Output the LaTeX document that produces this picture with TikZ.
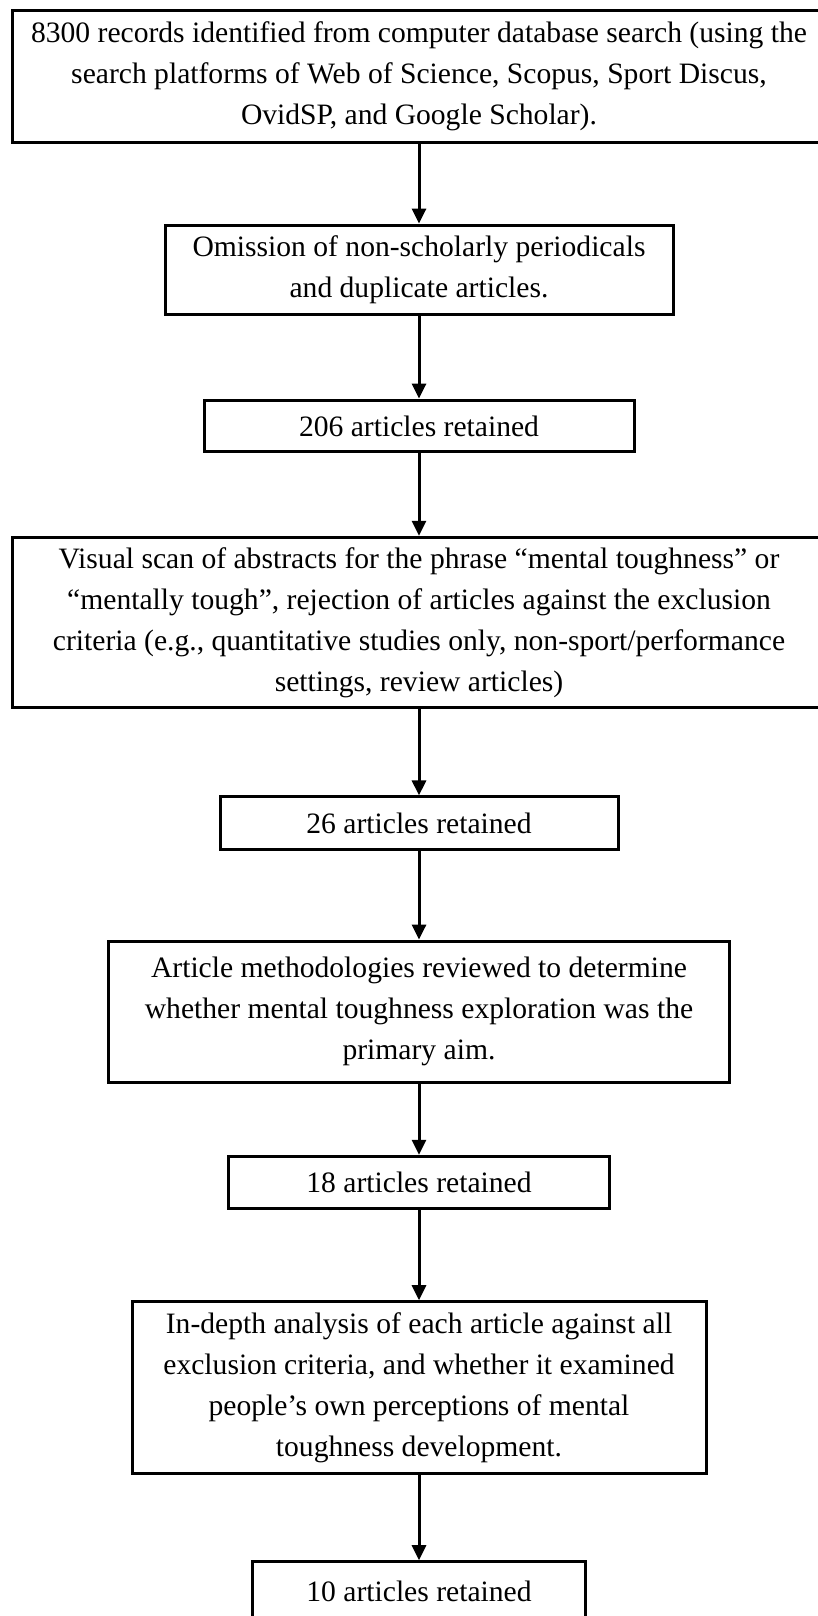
\documentclass[tikz,border=0pt]{standalone}
\usepackage{fontspec}
\setmainfont{Liberation Serif}
\usetikzlibrary{positioning,arrows.meta}

\begin{document}
\begin{tikzpicture}[>={Triangle[width=7pt,length=7.5pt]}, node distance=40pt,
    every node/.style={font=\fontsize{14.8pt}{20.5pt}\selectfont},
    box/.style={draw, line width=1.5pt, align=center, inner sep=0pt}]
      \useasboundingbox (0,0) rectangle (409pt,-808pt);
      \node[box, minimum width=406.5pt, minimum height=66pt, anchor=north] (search) at (209.5pt,-4.5pt)
            {8300 records identified from computer database search (using the\\
             search platforms of Web of Science, Scopus, Sport Discus,\\
             OvidSP, and Google Scholar).};
      \node[box, minimum width=254pt, minimum height=44.8pt, below=39.8pt of search] (omit)
            {Omission of non-scholarly periodicals\\ and duplicate articles.};
      \node[box, minimum width=215pt, minimum height=25.8pt, below=41.2pt of omit] (kept206) {206 articles retained};
      \node[box, minimum width=406.5pt, minimum height=85pt, below=41.3pt of kept206] (scan)
            {Visual scan of abstracts for the phrase “mental toughness” or\\
             “mentally tough”, rejection of articles against the exclusion\\
             criteria (e.g., quantitative studies only, non-sport/performance\\
             settings, review articles)};
      \node[box, minimum width=199pt, minimum height=26.3pt, below=43.3pt of scan] (kept26) {26 articles retained};
      \node[box, minimum width=310.5pt, minimum height=70.6pt, below=44.3pt of kept26] (method)
            {Article methodologies reviewed to determine\\
             whether mental toughness exploration was the\\
             primary aim.};
      \node[box, minimum width=190.5pt, minimum height=26.3pt, below=35.5pt of method] (kept18) {18 articles retained};
      \node[box, minimum width=287pt, minimum height=86pt, below=44.9pt of kept18] (depth)
            {In-depth analysis of each article against all\\
             exclusion criteria, and whether it examined\\
             people’s own perceptions of mental\\
             toughness development.};
      \node[box, minimum width=166.5pt, minimum height=30pt, below=42.5pt of depth] (kept10) {10 articles retained};
      \draw[->, line width=1.5pt] (search) -- (omit);
      \draw[->, line width=1.5pt] (omit) -- (kept206);
      \draw[->, line width=1.5pt] (kept206) -- (scan);
      \draw[->, line width=1.5pt] (scan) -- (kept26);
      \draw[->, line width=1.5pt] (kept26) -- (method);
      \draw[->, line width=1.5pt] (method) -- (kept18);
      \draw[->, line width=1.5pt] (kept18) -- (depth);
      \draw[->, line width=1.5pt] (depth) -- (kept10);
    \end{tikzpicture}
\end{document}
